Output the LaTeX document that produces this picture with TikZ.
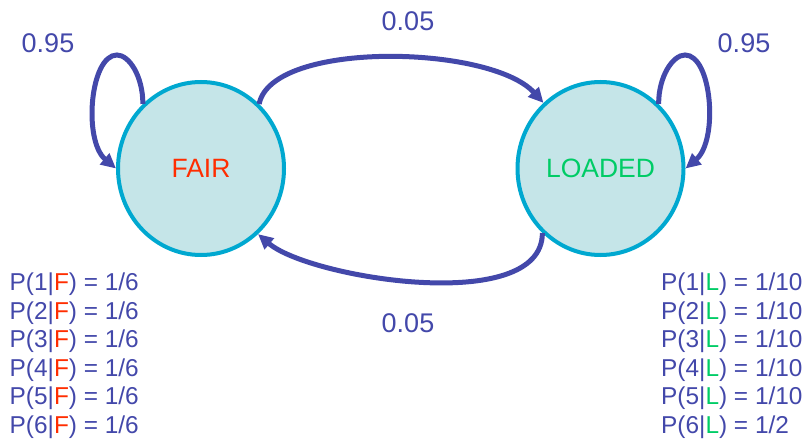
\documentclass[tikz,border=0pt]{standalone}
\usepackage{fontspec}
\setmainfont{Liberation Sans}
\usetikzlibrary{shapes.geometric,arrows.meta}
\definecolor{edgeblue}{RGB}{67,72,170}
\definecolor{statefill}{RGB}{197,229,232}
\definecolor{stateline}{RGB}{0,168,208}
\definecolor{fairred}{RGB}{255,45,0}
\definecolor{loadgreen}{RGB}{0,204,102}
\tikzset{
  state/.style={ellipse, draw=stateline, fill=statefill, line width=4pt,
    minimum width=166pt, minimum height=173pt, inner sep=0pt,
    font=\fontsize{26.5}{30}\selectfont},
  trans/.style={draw=edgeblue, line width=5pt,
    -{Triangle[length=15pt,width=14pt]}},
  prob/.style={text=edgeblue, inner sep=0pt, font=\fontsize{27}{30}\selectfont},
  emis/.style={text=edgeblue, inner sep=0pt, align=left, anchor=north west,
    font=\fontsize{24.4}{28.5}\selectfont}
}
\begin{document}
\begin{tikzpicture}[x=1pt,y=-1pt]
\useasboundingbox (0,0) rectangle (803,441);

% the two hidden states
\node[state] (F) at (201,168.5) {\textcolor{fairred}{FAIR}};
\node[state] (L) at (600.5,168.5) {\textcolor{loadgreen}{LOADED}};

% tops of the self loops
\coordinate (ftop) at (117,55);
\coordinate (ltop) at (685,55);

% self transitions
\draw[trans] (F.132) .. controls +(0,-28) and +(12,0) .. (ftop)
  .. controls +(-27,0) and +(-33,-28) .. (F.180);
\draw[trans] (L.48) .. controls +(0,-28) and +(-12,0) .. (ltop)
  .. controls +(27,0) and +(33,-28) .. (L.0);

% switching between the dice
\draw[trans] (F.48) .. controls +(13,-64) and +(-53,-58) .. (L.131);
\draw[trans] (L.228) .. controls +(0,83) and +(51,44) .. (F.311);

% transition probabilities
\node[prob] (pff) at (48,43) {0.95};
\node[prob] (pll) at (744,43) {0.95};
\node[prob] (pfl) at (408,21) {0.05};
\node[prob] (plf) at (408,323) {0.05};

% emission probabilities
\node[emis] (ef) at (9.5,272.8) {%
P(1|\textcolor{fairred}{F}) = 1/6\\
P(2|\textcolor{fairred}{F}) = 1/6\\
P(3|\textcolor{fairred}{F}) = 1/6\\
P(4|\textcolor{fairred}{F}) = 1/6\\
P(5|\textcolor{fairred}{F}) = 1/6\\
P(6|\textcolor{fairred}{F}) = 1/6};
\node[emis] (el) at (661,272.8) {%
P(1|\textcolor{loadgreen}{L}) = 1/10\\
P(2|\textcolor{loadgreen}{L}) = 1/10\\
P(3|\textcolor{loadgreen}{L}) = 1/10\\
P(4|\textcolor{loadgreen}{L}) = 1/10\\
P(5|\textcolor{loadgreen}{L}) = 1/10\\
P(6|\textcolor{loadgreen}{L}) = 1/2};
\end{tikzpicture}
\end{document}
